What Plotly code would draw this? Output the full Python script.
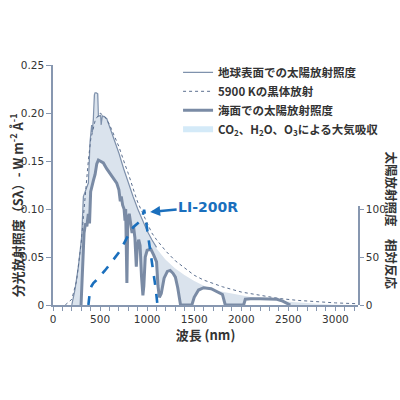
import plotly.graph_objects as go

# 大気圏外（凡例上は地球表面）の太陽放射照度
toa_nm = [200, 234, 270, 305, 323, 350, 376, 394, 411, 418, 429, 440, 447, 460, 475, 482,
          495, 506, 511, 525, 545, 571, 600, 650, 700, 750, 800, 850, 900, 950, 1000,
          1050, 1100, 1200, 1300, 1400, 1500, 1600, 1700, 1800, 2000, 2200, 2400,
          2600, 2800, 3000, 3240]
toa_val = [0, 0.016, 0.04, 0.071, 0.113, 0.12, 0.127, 0.17, 0.1875, 0.18, 0.194, 0.219,
           0.221, 0.221, 0.22, 0.196, 0.197, 0.198, 0.1875, 0.197, 0.196, 0.194, 0.186,
           0.173, 0.158, 0.142, 0.127, 0.113, 0.1, 0.088, 0.077, 0.068, 0.06, 0.048,
           0.039, 0.032, 0.026, 0.021, 0.017, 0.0145, 0.0105, 0.0072, 0.005, 0.0033,
           0.0022, 0.0014, 0.0008]

# 5900 K の黒体放射
bb_nm = [130, 200, 250, 300, 323, 350, 376, 400, 429, 450, 500, 553, 600, 660, 700, 766,
         800, 872, 900, 979, 1050, 1100, 1200, 1300, 1400, 1500, 1600, 1800, 2000,
         2200, 2400, 2600, 2800, 3000, 3240]
bb_val = [0, 0.006, 0.025, 0.065, 0.092, 0.125, 0.151, 0.172, 0.186, 0.193, 0.2, 0.196,
          0.188, 0.175, 0.165, 0.146, 0.137, 0.115, 0.107, 0.09, 0.075, 0.068, 0.056,
          0.046, 0.038, 0.031, 0.026, 0.019, 0.0135, 0.0098, 0.0068, 0.0048, 0.0033,
          0.0022, 0.0013]

# 海面での太陽放射照度
sea_nm = [298, 315, 330, 345, 360, 375, 388, 400, 415, 430, 447, 465, 482, 500, 535, 570,
          606, 640, 677, 700, 715, 725, 740, 755, 765, 772, 778, 785, 795, 810, 825, 840,
          855, 870, 885, 895, 910, 925, 940, 955, 965, 980, 1000, 1040, 1070, 1100, 1115,
          1130, 1150, 1180, 1215, 1245, 1275, 1300, 1325, 1345, 1355, 1475, 1500, 1546,
          1600, 1680, 1741, 1800, 1830, 2025, 2043, 2100, 2200, 2300, 2379, 2440, 2486,
          2521]
sea_val = [0, 0.045, 0.075, 0.085, 0.082, 0.095, 0.085, 0.118, 0.125, 0.13, 0.136,
           0.147, 0.151, 0.15, 0.148, 0.142, 0.137, 0.132, 0.127, 0.12, 0.108, 0.113,
           0.104, 0.1, 0.088, 0.1, 0.06, 0.023, 0.09, 0.095, 0.085, 0.075, 0.082, 0.07,
           0.04, 0.06, 0.068, 0.062, 0.03, 0.01, 0.02, 0.05, 0.057, 0.058, 0.052, 0.045,
           0.02, 0.008, 0.012, 0.028, 0.035, 0.036, 0.033, 0.029, 0.018, 0.004, 0, 0,
           0.008, 0.0156, 0.018, 0.017, 0.014, 0.011, 0, 0, 0.006, 0.0065, 0.0065, 0.006,
           0.006, 0.004, 0.002, 0]

# LI-200R 相対反応（右軸）
li_nm = [376, 385, 394, 410, 429, 460, 500, 550, 606, 660, 713, 750, 784, 820, 855, 890,
         926, 950, 968, 985, 1014, 1040, 1067, 1090, 1110]
li_val = [0, 8, 16, 20, 23, 26, 30, 36, 43, 50, 57, 64, 71, 77, 82, 85, 88, 93, 100, 90,
          71, 53, 36, 18, 0]

x_ticks = [0, 500, 1000, 1500, 2000, 2500, 3000]
y_ticks = [0, 0.05, 0.10, 0.15, 0.20, 0.25]
y_tick_text = ['0', '0.05', '0.10', '0.15', '0.20', '0.25']
y2_ticks = [0, 50, 100]

axis_col = '#8797b0'
text_col = '#333333'
font_tick = dict(family='DejaVu Sans', size=10.5, color=text_col)
font_jp = 'Noto Sans CJK JP'

fig = go.Figure()

# 大気吸収の塗り（大気圏外と海面の間）
fig.add_trace(go.Scatter(x=toa_nm, y=toa_val, mode='lines',
                         line=dict(color='white', width=1.5), showlegend=False,
                         hoverinfo='skip'))
fig.add_trace(go.Scatter(x=sea_nm, y=sea_val, mode='lines', fill='tonexty',
                         fillcolor='#dae3ed', line=dict(color='rgba(0,0,0,0)', width=0),
                         showlegend=False, hoverinfo='skip'))

cut = toa_nm.index(1100) + 1
fig.add_trace(go.Scatter(x=toa_nm[:cut], y=toa_val[:cut], mode='lines',
                         name='地球表面での太陽放射照度',
                         line=dict(color='#7f92ad', width=1.3)))
fig.add_trace(go.Scatter(x=bb_nm, y=bb_val, mode='lines', name='5900 Kの黒体放射',
                         line=dict(color='#5b6f8f', width=1, dash='dot')))
fig.add_trace(go.Scatter(x=sea_nm, y=sea_val, mode='lines', name='海面での太陽放射照度',
                         line=dict(color='#7a8ba5', width=3)))
fig.add_trace(go.Scatter(x=[None], y=[None], mode='none', fill='toself',
                         fillcolor='#d4eaf8',
                         name='CO<sub>2</sub>、H<sub>2</sub>O、O<sub>3</sub>による大気吸収'))
fig.add_trace(go.Scatter(x=li_nm, y=li_val, mode='lines', yaxis='y2', showlegend=False,
                         line=dict(color='#1a6fbd', width=2.6, dash='dash')))

fig.add_annotation(x=1032, y=0.097, text='<b>LI-200R</b>', showarrow=True,
                   ax=58, ay=-5, arrowhead=2, arrowsize=0.8, arrowwidth=2.5,
                   arrowcolor='#1a6fbd', xanchor='center',
                   font=dict(family='DejaVu Sans', size=14, color='#1a6fbd'))

fig.add_annotation(xref='paper', yref='paper', x=-0.12, y=0.417, textangle=-90,
                   xanchor='center', yanchor='middle', showarrow=False,
                   text='<b>分光放射照度（Sλ）- W m<sup>-2</sup> Å<sup>-1</sup></b>',
                   font=dict(family=font_jp, size=13, color=text_col))
fig.add_annotation(xref='paper', yref='paper', x=1.11, y=0.354, textangle=90,
                   xanchor='center', yanchor='middle', showarrow=False,
                   text='<b>太陽放射照度　相対反応</b>',
                   font=dict(family=font_jp, size=12.5, color=text_col))

fig.update_layout(
    width=400, height=400,
    margin=dict(l=53, r=42, t=65, b=95, autoexpand=False),
    paper_bgcolor='white', plot_bgcolor='rgba(0,0,0,0)',
    xaxis=dict(range=[0, 3240], tickvals=x_ticks, showline=True, linecolor=axis_col,
               linewidth=1.5, ticks='outside', ticklen=4, tickcolor=axis_col,
               minor=dict(dtick=100, ticks='outside', ticklen=4, tickcolor=axis_col),
               showgrid=False, zeroline=False, tickfont=font_tick, automargin=False,
               title=dict(text='<b>波長 (nm)</b>', standoff=4,
                          font=dict(family=font_jp, size=13, color=text_col))),
    yaxis=dict(range=[0, 0.25], tickvals=y_ticks, ticktext=y_tick_text, showline=True,
               linecolor=axis_col, linewidth=1.5, ticks='outside', ticklen=5,
               tickcolor=axis_col, showgrid=False, zeroline=False, tickfont=font_tick,
               automargin=False),
    yaxis2=dict(domain=[0, 0.4125], range=[0, 104], anchor='x', side='right',
                tickvals=y2_ticks, showline=True, linecolor=axis_col, linewidth=1.5,
                ticks='outside', ticklen=4, tickcolor=axis_col, showgrid=False,
                zeroline=False, tickfont=font_tick, automargin=False),
    legend=dict(x=0.41, y=1.03, xanchor='left', yanchor='top', bgcolor='rgba(0,0,0,0)',
                font=dict(family=font_jp, size=11.5, color=text_col, weight='bold'),
                itemwidth=30, tracegroupgap=0, traceorder='normal'),
    showlegend=True,
)

fig.write_html('out.html', config={'displayModeBar': False},
               post_script="document.body.style.margin='0';")
